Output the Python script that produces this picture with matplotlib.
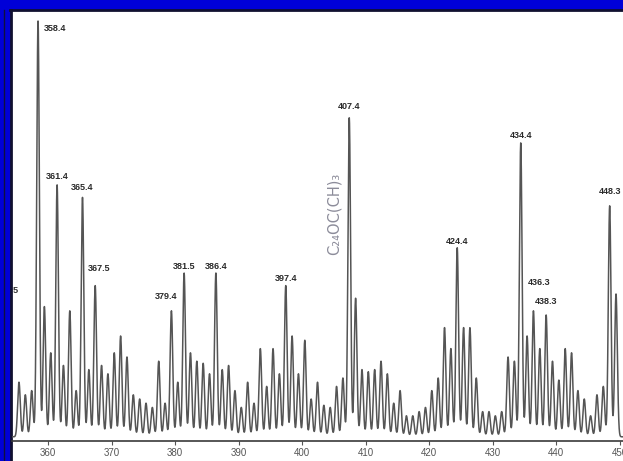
import numpy as np
import matplotlib.pyplot as plt
from matplotlib.patches import Rectangle
from matplotlib.lines import Line2D

# nominal peak masses (one peak per integer m/z) and peak heights
masses = np.arange(355, 450) + 0.4
heights = [
    14, 11, 12, 100, 32, 21, 61, 18, 31, 12,      # 355-364
    58, 17, 37, 18, 16, 21, 25, 20, 11, 10,       # 365-374
    9, 8, 19, 9, 31, 14, 40, 21, 19, 18.5,        # 375-384
    16, 40, 17, 18, 12, 8, 14, 9, 22, 13,         # 385-394
    22, 16, 37, 25, 16, 24, 10, 14, 8.5, 8,       # 395-404
    13, 15, 77, 34, 17, 16.5, 17, 19, 16, 9,      # 405-414
    12, 6, 6, 7, 8, 12, 15, 27, 22, 46,           # 415-424
    27, 27, 15, 7, 7, 6, 7, 20, 19, 71,           # 425-434
    25, 31, 22, 30, 19, 14.5, 22, 21, 12, 10,     # 435-444
    6, 11, 13, 56, 35,                            # 445-449
]

# labelled peaks
peak_labels = ["358.4", "361.4", "365.4", "367.5", "379.4", "381.5", "386.4",
               "397.4", "407.4", "424.4", "434.4", "436.3", "438.3", "448.3"]
label_peaks = [358, 361, 365, 367, 379, 381, 386, 397, 407, 424, 434, 436, 438, 448]

# label offsets from the peak top (pixels) - layout only
label_dx = [17, 0, 0, 4, -5, 0, 0, 0, 0, 0, 0, 6, 0, 0]
label_dy = [-7, 8, 10, 17, 14, 7, 7, 7, 11, 6, 7, 28, 14, 14]

W, H = 623, 461
fig = plt.figure(figsize=(W / 100, H / 100), dpi=100, facecolor='#0000d8')

# white page inside the blue frame
fig.patches.append(Rectangle((12 / W, 0), 1 - 12 / W, (H - 11) / H,
                             transform=fig.transFigure, facecolor='white',
                             edgecolor='none', zorder=-10))
fig.lines.append(Line2D([10 / W, 1], [(H - 10) / H] * 2, transform=fig.transFigure,
                        color='#101030', lw=2, zorder=-5))
fig.lines.append(Line2D([11 / W] * 2, [0, (H - 10) / H], transform=fig.transFigure,
                        color='#101030', lw=2, zorder=-5))
fig.lines.append(Line2D([3.5 / W] * 2, [0, (H - 10) / H], transform=fig.transFigure,
                        color='#101040', lw=1, zorder=-5))

ax = fig.add_axes([12 / W, 20 / H, 611 / W, 430 / H])
ax.set_facecolor('none')

# draw the profile trace: a narrow peak at each mass
sigma = 0.21
base = 1.0
x = np.linspace(354.0, 451.0, 6000)
y = np.full_like(x, base)
for m, h in zip(masses, heights):
    y += (h - base) * np.exp(-0.5 * ((x - m) / sigma) ** 2)
ax.plot(x, y, color='#555555', lw=1.1)

for lab, p, dx, dy in zip(peak_labels, label_peaks, label_dx, label_dy):
    i = p - 355
    ax.annotate(lab, (masses[i], heights[i]), xytext=(dx, dy),
                textcoords='offset pixels', ha='center', va='center',
                fontsize=6.5, family='Liberation Sans', fontweight='bold',
                color='#2a2a2a', annotation_clip=False)

# handwritten note
ax.text(masses[407 - 355] - 2.45, 54, "C\u2082\u2084OC(CH)\u2083", rotation=90,
        ha='center', va='center', fontsize=10.5, color='#8c8c9a')

# fragment of a cut-off label at the left edge
fig.text(15 / W, 1 - 290 / H, "5", fontsize=6.6, family='Liberation Sans',
         fontweight='bold', color='#333', ha='center', va='center')

ax.set_xlim(354.3, 450.5)
ax.set_ylim(0, 430 / 4.2)
for s in ['top', 'right', 'left']:
    ax.spines[s].set_visible(False)
ax.spines['bottom'].set_color('#3a3a3a')
ax.spines['bottom'].set_linewidth(1.2)
ax.set_yticks([])
ax.set_xticks(range(360, 451, 10))
ax.tick_params(axis='x', labelsize=7, length=3, width=0.8, colors='#555', pad=2)
for t in ax.get_xticklabels():
    t.set_family('Liberation Sans')

plt.savefig("out.png", dpi=100, facecolor=fig.get_facecolor())
